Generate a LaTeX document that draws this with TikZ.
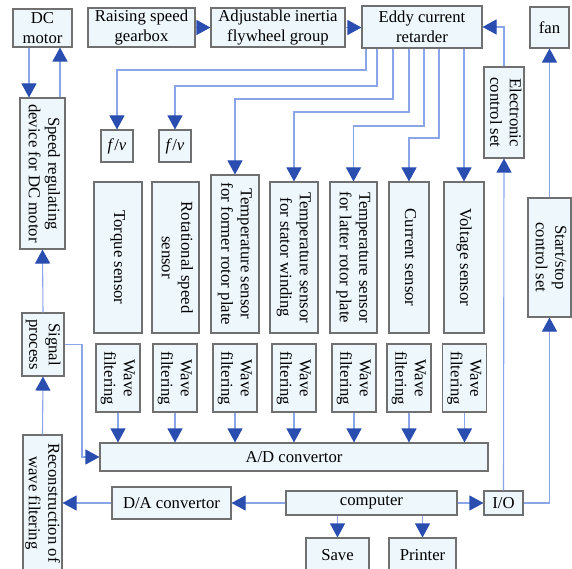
\documentclass[tikz,border=0pt]{standalone}
\usepackage{fontspec}
\setmainfont{Liberation Serif}
\usetikzlibrary{arrows.meta}
\definecolor{boxfill}{HTML}{EEF7FC}
\definecolor{boxline}{HTML}{707070}
\definecolor{linecol}{HTML}{8AA6E8}
\definecolor{arrowcol}{HTML}{2A4DB0}
\newcommand{\vtext}[1]{\rotatebox{-90}{\begin{tabular}{@{}c@{}}#1\end{tabular}}}
\begin{document}
\begin{tikzpicture}[x=1pt,y=-1pt,
  box/.style={draw=boxline, line width=1.1pt, fill=boxfill, inner sep=0pt, align=center,
    font=\fontsize{16.7}{19.5}\selectfont},
  conn/.style={draw=linecol, line width=1.1pt,
    -{Triangle[width=15pt,length=14pt,color=arrowcol]}}]
\useasboundingbox[fill=white] (0,0) rectangle (572,569);
% top row
\node[box, minimum width=59pt, minimum height=38pt] (dcm) at (42.5,28) {DC\\motor};
\node[box, minimum width=107pt, minimum height=39pt] (gear) at (141.5,27.5) {Raising speed\\gearbox};
\node[box, minimum width=134pt, minimum height=39pt] (fly) at (278,27.5) {Adjustable inertia\\flywheel group};
\node[box, minimum width=120pt, minimum height=42pt] (eddy) at (422,27) {Eddy current\\retarder};
\node[box, minimum width=39pt, minimum height=41pt] (fan) at (549.5,27.5) {fan};
% left column
\node[box, minimum width=45pt, minimum height=151pt] (speed) at (42.5,173.5) {\vtext{Speed regulating\\device for DC motor}};
\node[box, minimum width=42pt, minimum height=63pt] (sig) at (43,344.5) {\vtext{Signal\\process}};
\node[box, minimum width=39pt, minimum height=136pt] (rec) at (42.5,503) {\vtext{Reconstruction of\\wave filtering}};
% f/v
\node[box, minimum width=32pt, minimum height=32pt] (fv1) at (117,146) {\textit{f}/\textit{v}};
\node[box, minimum width=32pt, minimum height=32pt] (fv2) at (175,146) {\textit{f}/\textit{v}};
% right controls
\node[box, minimum width=40pt, minimum height=91pt] (ecs) at (504,112.5) {\vtext{Electronic\\control set}};
\node[box, minimum width=43pt, minimum height=119pt] (ss) at (549.5,257.5) {\vtext{Start/stop\\control set}};
% sensors
\node[box, minimum width=48pt, minimum height=151pt] (torque) at (118,257.5) {\vtext{Torque sensor}};
\node[box, minimum width=47pt, minimum height=151pt] (rot) at (175.5,257.5) {\vtext{Rotational speed\\sensor}};
\node[box, minimum width=48pt, minimum height=158pt] (tfr) at (235,254) {\vtext{Temperature sensor\\for former rotor plate}};
\node[box, minimum width=48pt, minimum height=151pt] (tsw) at (294,257.5) {\vtext{Temperature sensor\\for stator winding}};
\node[box, minimum width=47pt, minimum height=151pt] (tlr) at (353.5,257.5) {\vtext{Temperature sensor\\for latter rotor plate}};
\node[box, minimum width=40pt, minimum height=151pt] (cur) at (409,257.5) {\vtext{Current sensor}};
\node[box, minimum width=40pt, minimum height=151pt] (volt) at (464,257.5) {\vtext{Voltage sensor}};
% wave filters
\foreach \i/\x in {1/118,2/175,3/235,4/294,5/354,6/409,7/464.5}{
  \node[box, minimum width=44pt, minimum height=68pt] (wf\i) at (\x,378) {\vtext{Wave\\filtering}};
}
% converters and computer
\node[box, minimum width=388pt, minimum height=28pt] (ad) at (294,457) {A/D convertor};
\node[box, minimum width=119pt, minimum height=32pt] (da) at (171.5,503) {D/A convertor};
\node[box, minimum width=171pt, minimum height=24pt] (comp) at (371.5,503) {computer};
\node[box, minimum width=39pt, minimum height=24pt] (io) at (503.5,503) {I/O};
\node[box, minimum width=63pt, minimum height=34pt] (save) at (337.5,555) {Save};
\node[box, minimum width=67pt, minimum height=34pt] (printer) at (422.5,555) {Printer};
% connectors
\draw[conn] (29,0 |- dcm.south) -- (29,0 |- speed.north);
\draw[conn] (60,0 |- speed.north) -- (60,0 |- dcm.south);
\draw[conn] (sig.north) -- (speed.south);
\draw[conn] (rec.north) -- (sig.south);
\draw[conn] (gear.east) -- (fly.west);
\draw[conn] (fly.east) -- (fly.east -| eddy.west);
\draw[conn] (366,0 |- eddy.south) |- (117,70) -- (fv1.north);
\draw[conn] (377,0 |- eddy.south) |- (175,86) -- (fv2.north);
\draw[conn] (393,0 |- eddy.south) |- (235,99) -- (tfr.north);
\draw[conn] (409,0 |- eddy.south) |- (294,112) -- (tsw.north);
\draw[conn] (424,0 |- eddy.south) |- (353.5,126) -- (tlr.north);
\draw[conn] (439,0 |- eddy.south) |- (409,138) -- (cur.north);
\draw[conn] (464,0 |- eddy.south) -- (volt.north);
\draw[conn] (ecs.north) |- (eddy.east);
\draw[conn] (ss.north) -- (fan.south);
\draw[conn] (io.north) -- (ecs.south);
\draw[conn] (io.east) -| (ss.south);
\foreach \i in {1,...,7}{
  \draw[conn] (wf\i.south) -- (wf\i.south |- ad.north);
}
\draw[conn] (sig.east) -| (82,457) -- (ad.west);
\draw[conn] (comp.west) -- (da.east);
\draw[conn] (da.west) -- (rec.east);
\draw[conn] (comp.east) -- (io.west);
\draw[conn] (save.north |- comp.south) -- (save.north);
\draw[conn] (printer.north |- comp.south) -- (printer.north);
\end{tikzpicture}
\end{document}
